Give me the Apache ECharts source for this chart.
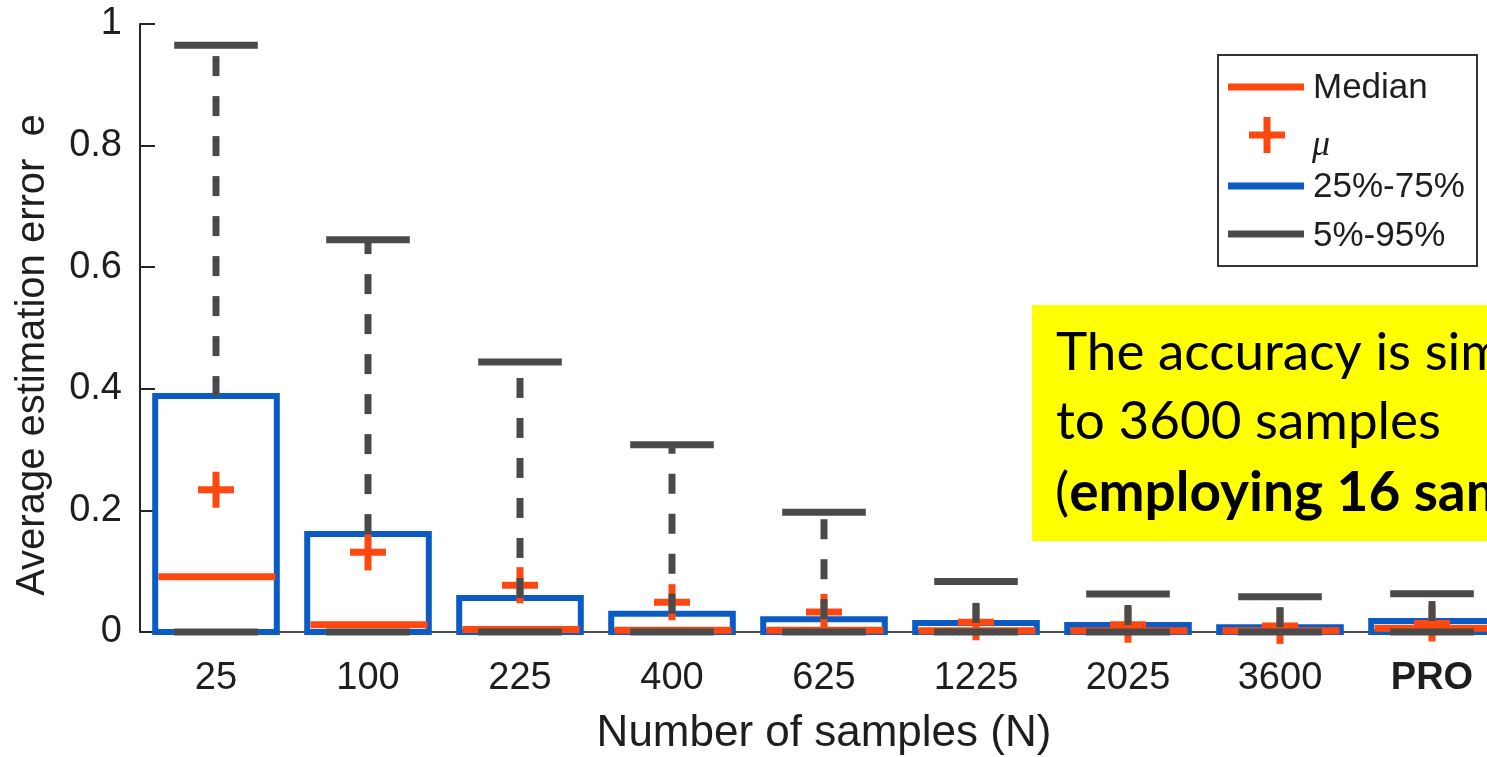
<!DOCTYPE html>
<html>
<head>
<meta charset="utf-8">
<script src="https://cdn.jsdelivr.net/npm/echarts@6/dist/echarts.min.js"></script>
<style>
html,body{margin:0;padding:0;background:#fff;}
#chart{width:1487px;height:757px;}
</style>
</head>
<body>
<div id="chart"></div>
<script>
// ---- data ----
const categories = ['25', '100', '225', '400', '625', '1225', '2025', '3600', 'PRO'];
const q1     = [0, 0, 0, 0, 0, 0, 0, 0, 0];
const q3     = [0.388, 0.161, 0.056, 0.030, 0.021, 0.015, 0.0115, 0.008, 0.018];
const median = [0.091, 0.012, 0.004, 0.003, 0.003, 0.002, 0.002, 0.002, 0.006];
const mean   = [0.234, 0.131, 0.077, 0.049, 0.033, 0.016, 0.012, 0.010, 0.014];
const p5     = [0, 0, 0, 0, 0, 0, 0, 0, 0];
const p95    = [0.965, 0.645, 0.444, 0.308, 0.197, 0.083, 0.0625, 0.058, 0.063];
const yTicks = [0, 0.2, 0.4, 0.6, 0.8, 1];
const legendLabels = ['Median', 'μ', '25%-75%', '5%-95%'];

const ORANGE = '#ff4710';
const BLUE = '#0a5bc4';
const GRAY = '#4a4a4a';
const TXT = '#1e1e1e';

const chart = echarts.init(document.getElementById('chart'));

const boxData = categories.map((c, i) => [i, q1[i], q3[i], median[i], mean[i], p5[i], p95[i]]);

function renderItem(params, api) {
  const idx = api.value(0);
  const cx = api.coord([idx, 0])[0];
  const Y = v => api.coord([idx, v])[1];
  const band = api.size([1, 0])[0];
  const bw = band * 0.8;
  const mw = band * 0.77;
  const cw = band * 0.55;
  const ps = 36;
  const yq1 = Y(api.value(1)), yq3 = Y(api.value(2)), ymed = Y(api.value(3)),
        ymu = Y(api.value(4)), yp5 = Y(api.value(5)), yp95 = Y(api.value(6));
  const lineEl = (x1, y1, x2, y2, color, w, dash) => ({
    type: 'line',
    shape: { x1, y1, x2, y2 },
    style: { stroke: color, lineWidth: w, lineCap: 'butt', lineDash: dash || null }
  });
  return {
    type: 'group',
    children: [
      { type: 'rect', shape: { x: cx - bw / 2, y: yq3, width: bw, height: yq1 - yq3 },
        style: { fill: 'none', stroke: BLUE, lineWidth: 6 } },
      lineEl(cx - mw / 2 + 1, ymed, cx + mw / 2 + 1, ymed, ORANGE, 7),
      lineEl(cx - ps / 2, ymu, cx + ps / 2, ymu, ORANGE, 7),
      lineEl(cx, ymu - ps / 2, cx, ymu + ps / 2, ORANGE, 7),
      lineEl(cx, yq3, cx, yp95, GRAY, 7, [20, 20]),
      lineEl(cx, yq1, cx, yp5, GRAY, 7, [20, 20]),
      lineEl(cx - cw / 2, yp95, cx + cw / 2, yp95, GRAY, 7),
      lineEl(cx - cw / 2, yp5, cx + cw / 2, yp5, GRAY, 7)
    ]
  };
}

const LX = 1218, LY = 55;
const legendItems = [
  { type: 'rect', shape: { x: LX, y: LY, width: 259, height: 211 },
    style: { fill: '#fff', stroke: '#333', lineWidth: 2 } },
  { type: 'line', shape: { x1: 1228, y1: 87, x2: 1304, y2: 87 }, style: { stroke: ORANGE, lineWidth: 7 } },
  { type: 'line', shape: { x1: 1249, y1: 135, x2: 1285, y2: 135 }, style: { stroke: ORANGE, lineWidth: 7 } },
  { type: 'line', shape: { x1: 1267, y1: 117, x2: 1267, y2: 153 }, style: { stroke: ORANGE, lineWidth: 7 } },
  { type: 'line', shape: { x1: 1228, y1: 186, x2: 1304, y2: 186 }, style: { stroke: BLUE, lineWidth: 7 } },
  { type: 'line', shape: { x1: 1228, y1: 234, x2: 1304, y2: 234 }, style: { stroke: GRAY, lineWidth: 7 } },
  { type: 'text', x: 1313, y: 88, style: { text: legendLabels[0], fill: TXT, font: '35px "Liberation Sans"', verticalAlign: 'middle' } },
  { type: 'text', x: 1312, y: 146, style: { text: legendLabels[1], fill: TXT, font: 'italic 36px "Liberation Serif"', verticalAlign: 'middle' } },
  { type: 'text', x: 1313, y: 187, style: { text: legendLabels[2], fill: TXT, font: '35px "Liberation Sans"', verticalAlign: 'middle' } },
  { type: 'text', x: 1313, y: 236, style: { text: legendLabels[3], fill: TXT, font: '35px "Liberation Sans"', verticalAlign: 'middle' } }
];

const note = [
  { type: 'rect', shape: { x: 1032, y: 305, width: 520, height: 236 }, style: { fill: '#ffff00' } },
  { type: 'text', x: 1056, y: 353, style: { text: 'The accuracy is similar', fill: '#000', font: '53px Lato', verticalAlign: 'middle' } },
  { type: 'text', x: 1056, y: 422, style: { text: 'to 3600 samples', fill: '#000', font: '53px Lato', verticalAlign: 'middle' } },
  { type: 'text', x: 1055, y: 493, style: {
      text: '{n|(}{b|employing 16 samples}{n|)}',
      verticalAlign: 'middle',
      rich: {
        n: { fontFamily: 'Lato', fontSize: 53, fill: '#000' },
        b: { fontFamily: 'Lato', fontSize: 55, fontWeight: 'bold', fill: '#000' }
      } } }
];

const option = {
  backgroundColor: '#fff',
  animation: false,
  grid: { left: 140, top: 24, width: 1368, height: 608, outerBoundsMode: 'none', containLabel: false },
  xAxis: {
    type: 'category',
    data: categories.map(c => c === 'PRO' ? { value: c, textStyle: { fontWeight: 'bold' } } : c),
    boundaryGap: true,
    axisLine: { show: true, lineStyle: { color: '#4d4d4d', width: 2 } },
    axisTick: { show: false },
    axisLabel: { fontSize: 38, fontFamily: 'Liberation Sans', color: TXT, margin: 28, interval: 0 },
    splitLine: { show: false },
    name: 'Number of samples (N)',
    nameLocation: 'middle',
    nameGap: 80,
    nameTextStyle: { fontSize: 44, fontFamily: 'Liberation Sans', color: TXT }
  },
  yAxis: {
    type: 'value',
    min: yTicks[0],
    max: yTicks[yTicks.length - 1],
    interval: 0.2,
    axisLine: { show: true, lineStyle: { color: '#262626', width: 2 } },
    axisTick: { show: true, inside: true, length: 15, lineStyle: { color: '#262626', width: 2 } },
    axisLabel: { fontSize: 38, fontFamily: 'Liberation Sans', color: TXT, margin: 18 },
    splitLine: { show: false }
  },
  graphic: [
    { type: 'text', x: 33, y: 355, rotation: Math.PI / 2,
      style: { text: 'Average estimation error  e', fill: TXT, font: '40px "Liberation Sans"', align: 'center', verticalAlign: 'middle' } },
    { type: 'group', children: note },
    { type: 'group', children: legendItems }
  ],
  series: [{
    type: 'custom',
    renderItem: renderItem,
    data: boxData,
    encode: { x: 0, y: [1, 2, 3, 4, 5, 6] },
    clip: false,
    z: 3
  }]
};

chart.setOption(option);
</script>
</body>
</html>
